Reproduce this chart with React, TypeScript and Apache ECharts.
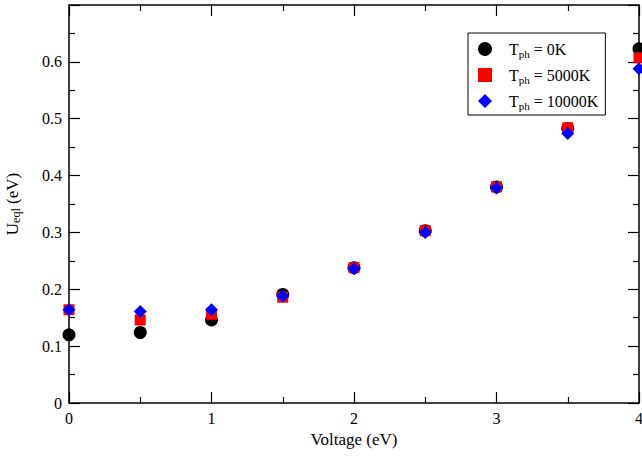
import React, { useEffect, useRef } from "react";
import * as echarts from "echarts";

const voltages = [0, 0.5, 1, 1.5, 2, 2.5, 3, 3.5, 4];
const u0K = [0.12, 0.124, 0.146, 0.191, 0.238, 0.303, 0.38, 0.483, 0.623];
const u5000K = [0.164, 0.146, 0.156, 0.186, 0.238, 0.303, 0.38, 0.484, 0.607];
const u10000K = [0.164, 0.161, 0.164, 0.188, 0.236, 0.3, 0.378, 0.474, 0.588];
const seriesNames = ["0K", "5000K", "10000K"];

const FONT = "Liberation Serif";

export default function App() {
  const ref = useRef<HTMLDivElement>(null);
  useEffect(() => {
    const chart = echarts.init(ref.current!, null, { renderer: "svg" });
    const mk = (vals: number[]) => voltages.map((v, i) => [v, vals[i]]);
    const axisCommon = {
      axisLine: { show: true, onZero: false, lineStyle: { color: "#000", width: 1.5 } },
      axisTick: { show: true, inside: true, length: 11, lineStyle: { color: "#000", width: 1.2 } },
      minorTick: { show: true, splitNumber: 2, length: 6, lineStyle: { color: "#000", width: 1.2 } },
      splitLine: { show: false },
    };
    const rich = {
      t: { fontFamily: FONT, fontSize: 16, lineHeight: 20, color: "#000" },
      s: { fontFamily: FONT, fontSize: 11, lineHeight: 10, verticalAlign: "bottom", color: "#000" },
      a: { fontFamily: FONT, fontSize: 16, lineHeight: 20, color: "#000", padding: [0, 0, 0, 12] },
    };
    const richName = {
      t: { fontFamily: FONT, fontSize: 17, lineHeight: 20, color: "#000" },
      s: { fontFamily: FONT, fontSize: 12, lineHeight: 10, verticalAlign: "bottom", color: "#000" },
    };
    chart.setOption({
      animation: false,
      grid: { left: 69, right: 3, top: 5, bottom: 56, outerBoundsMode: "none", containLabel: false },
      xAxis: [
        {
          type: "value",
          min: 0,
          max: 4,
          interval: 1,
          ...axisCommon,
          axisLabel: { color: "#000", fontFamily: FONT, fontSize: 16, margin: 7 },
          name: "Voltage (eV)",
          nameLocation: "middle",
          nameGap: 26,
          nameTextStyle: { color: "#000", fontFamily: FONT, fontSize: 17 },
        },
        {
          type: "value",
          position: "top",
          min: 0,
          max: 4,
          interval: 1,
          ...axisCommon,
          axisLabel: { show: false },
        },
      ],
      yAxis: [
        {
          type: "value",
          min: 0,
          max: 0.7,
          interval: 0.1,
          ...axisCommon,
          axisLabel: { color: "#000", fontFamily: FONT, fontSize: 16, margin: 7, showMaxLabel: false },
          name: "{t|U}{s|eql}{t| (eV)}",
          nameLocation: "middle",
          nameRotate: 90,
          nameGap: 47,
          nameTextStyle: { rich: richName },
        },
        {
          type: "value",
          position: "right",
          min: 0,
          max: 0.7,
          interval: 0.1,
          ...axisCommon,
          axisLabel: { show: false },
        },
      ],
      legend: {
        orient: "vertical",
        left: 468,
        top: 33,
        padding: [8, 7, 4, 10],
        itemGap: 8,
        itemWidth: 14,
        itemHeight: 14,
        borderColor: "#000",
        borderWidth: 1,
        borderRadius: 0,
        backgroundColor: "#fff",
        data: seriesNames.map((n) => ({ name: n })),
        formatter: (name: string) => `{a|T}{s|ph}{t| = ${name}}`,
        textStyle: { rich },
      },
      series: [
        {
          name: seriesNames[0],
          type: "scatter",
          symbol: "circle",
          symbolSize: 13,
          itemStyle: { color: "#000", opacity: 1 },
          data: mk(u0K),
          clip: false,
          z: 2,
        },
        {
          name: seriesNames[1],
          type: "scatter",
          symbol: "rect",
          symbolSize: 11,
          itemStyle: { color: "#ff0000", opacity: 1 },
          data: mk(u5000K),
          clip: false,
          z: 3,
        },
        {
          name: seriesNames[2],
          type: "scatter",
          symbol: "diamond",
          symbolSize: 13,
          itemStyle: { color: "#0000ff", opacity: 1 },
          data: mk(u10000K),
          clip: false,
          z: 4,
        },
      ],
    });
    return () => chart.dispose();
  }, []);
  return <div ref={ref} style={{ width: 642, height: 459, position: "absolute", left: 0, top: 0 }} />;
}
